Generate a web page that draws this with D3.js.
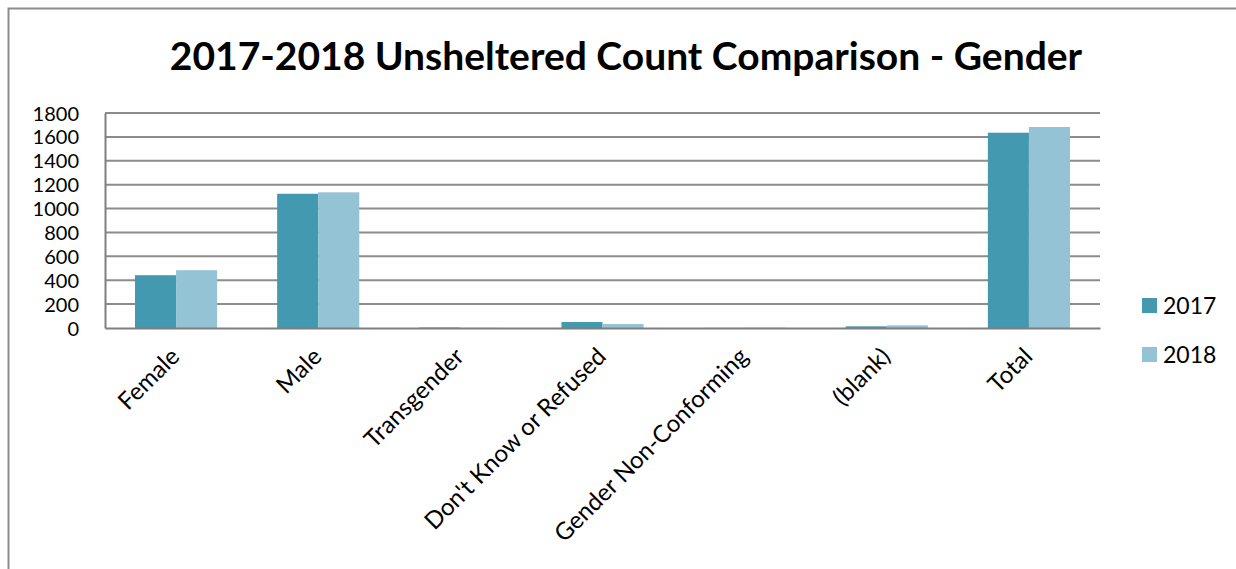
<!DOCTYPE html>
<meta charset="utf-8">
<style>
body { margin: 0; background: #fff; }
text { font-family: Lato, "Open Sans", sans-serif; fill: #000; }
.grid line { stroke: #8c8c8c; stroke-width: 2; }
.axis path, .axis line { stroke: #7f7f7f; stroke-width: 2; }
</style>
<body>
<script src="https://cdn.jsdelivr.net/npm/d3@7"></script>
<script>

var categories = ["Female", "Male", "Transgender", "Don't Know or Refused", "Gender Non-Conforming", "(blank)", "Total"];
var series = ["2017", "2018"];
var values2017 = [442, 1124, 4, 50, 1, 14, 1635];
var values2018 = [484, 1136, 1, 33, 3, 22, 1683];
var yTicks = [0, 200, 400, 600, 800, 1000, 1200, 1400, 1600, 1800];

var color = d3.scaleOrdinal().domain(series).range(["#4399b0", "#93c3d4"]);

var W = 1236, H = 569;
var margin = {top: 113, left: 105, right: 136, bottom: 241};
var width = W - margin.left - margin.right,
    height = H - margin.top - margin.bottom;

var svg = d3.select("body").append("svg")
    .attr("width", W)
    .attr("height", H);

// outer chart border (runs off the right and bottom edge)
svg.append("rect")
    .attr("x", 8.5).attr("y", 8.5)
    .attr("width", W + 20).attr("height", H + 20)
    .attr("fill", "none")
    .attr("stroke", "#8c8c8c")
    .attr("stroke-width", 2);

svg.append("text")
    .attr("x", 626)
    .attr("y", 70)
    .attr("text-anchor", "middle")
    .style("font-size", "39px")
    .style("font-weight", "bold")
    .text("2017-2018 Unsheltered Count Comparison - Gender");

var g = svg.append("g")
    .attr("transform", "translate(" + margin.left + "," + margin.top + ")");

var x = d3.scaleBand().domain(categories).range([0, width]);
var x1 = d3.scaleBand().domain(series).range([30, x.bandwidth() - 30]);
var y = d3.scaleLinear().domain([0, 1800]).range([height, 0]);

g.append("g")
    .attr("class", "grid")
    .selectAll("line")
    .data(yTicks.slice(1))
  .enter().append("line")
    .attr("x1", 0).attr("x2", width)
    .attr("y1", function(d) { return y(d); })
    .attr("y2", function(d) { return y(d); });

var data = categories.map(function(c, i) {
    return {cat: c, vals: [{s: "2017", v: values2017[i]}, {s: "2018", v: values2018[i]}]};
});

g.selectAll(".cat")
    .data(data)
  .enter().append("g")
    .attr("class", "cat")
    .attr("transform", function(d) { return "translate(" + x(d.cat) + ",0)"; })
  .selectAll("rect")
    .data(function(d) { return d.vals; })
  .enter().append("rect")
    .attr("x", function(d) { return x1(d.s); })
    .attr("width", x1.bandwidth())
    .attr("y", function(d) { return y(d.v); })
    .attr("height", function(d) { return height - y(d.v); })
    .attr("fill", function(d) { return color(d.s); });

var yAxis = d3.axisLeft(y).tickValues(yTicks).tickFormat(d3.format("d")).tickSize(0).tickPadding(26);
g.append("g")
    .attr("class", "axis")
    .call(yAxis)
    .call(function(s) { s.selectAll("text").style("font-size", "20px").attr("dy", "0.35em"); });

var xAxis = d3.axisBottom(x).tickSize(0).tickPadding(0);
g.append("g")
    .attr("class", "axis")
    .attr("transform", "translate(0," + height + ")")
    .call(xAxis)
    .call(function(s) {
        s.selectAll("text")
            .style("font-size", "24px")
            .attr("text-anchor", "end")
            .attr("dy", null)
            .attr("transform", "translate(5,30) rotate(-45)");
    });

var legend = svg.selectAll(".legend")
    .data(series)
  .enter().append("g")
    .attr("class", "legend")
    .attr("transform", function(d, i) { return "translate(1142," + (298 + i * 49) + ")"; });

legend.append("rect")
    .attr("width", 15).attr("height", 15)
    .attr("fill", color);

legend.append("text")
    .attr("x", 21).attr("y", 8)
    .attr("dy", "0.35em")
    .style("font-size", "23px")
    .text(function(d) { return d; });

</script>
</body>
</html>
